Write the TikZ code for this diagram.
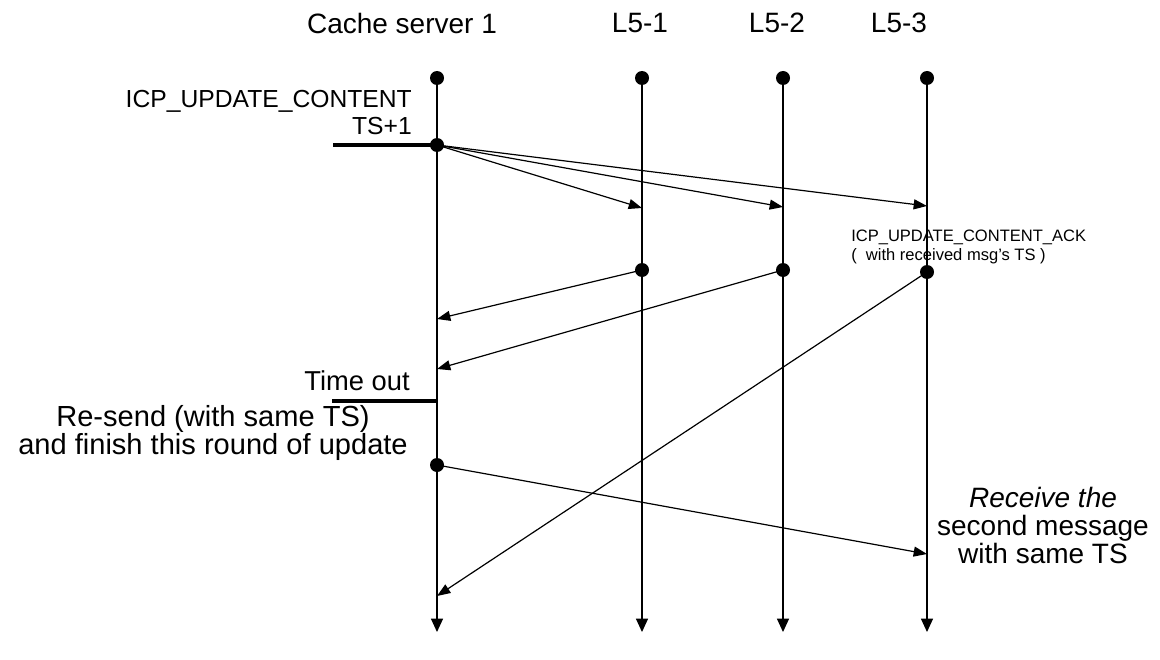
\documentclass[tikz,border=0pt]{standalone}
\usepackage{fontspec}
\setmainfont{Liberation Sans}
\usetikzlibrary{arrows.meta}
\begin{document}
\begin{tikzpicture}[x=0.75pt,y=-0.75pt,
  dot/.style={circle,fill=black,inner sep=0pt,minimum size=10.5pt},
  life/.style={line width=0.9pt,-{Triangle[length=10pt,width=9pt]}},
  msg/.style={line width=0.9pt,-{Triangle[length=10pt,width=7.5pt]}},
  thick line/.style={line width=2.3pt},
  big/.style={font=\fontsize{18.5}{22}\selectfont,inner sep=0pt},
  head/.style={font=\fontsize{21}{25}\selectfont,inner sep=0pt},
  side/.style={font=\fontsize{20.5}{21}\selectfont,inner sep=0pt},
  small/.style={font=\fontsize{12.4}{15}\selectfont,inner sep=0pt}]
\useasboundingbox (0,0) rectangle (1160,660);
% headers
\node[head] (h0) at (402,23) {Cache server 1};
\node[head] (h1) at (640,23) {L5-1};
\node[head] (h2) at (777,23) {L5-2};
\node[head] (h3) at (899,23) {L5-3};
% top dots
\node[dot] (c0) at (437,78) {};
\node[dot] (a0) at (642,78) {};
\node[dot] (b0) at (783,78) {};
\node[dot] (d0) at (927,78) {};
% bottoms
\coordinate (cE) at (437,632);
\coordinate (aE) at (642,632);
\coordinate (bE) at (783,632);
\coordinate (dE) at (927,632);
\draw[life] (c0.center) -- (cE);
\draw[life] (a0.center) -- (aE);
\draw[life] (b0.center) -- (bE);
\draw[life] (d0.center) -- (dE);
% update send
\node[big,anchor=east] (t1) at (412,101) {ICP\_UPDATE\_CONTENT};
\node[big,anchor=east] (t2) at (412,126) {TS+1};
\node[dot] (c1) at (437,145) {};
\coordinate (s1) at (333,145);
\draw[thick line] (s1) -- (c1.center);
\coordinate (a1) at (642,208);
\coordinate (b1) at (783,207);
\coordinate (d1) at (927,206);
\draw[msg] (c1.center) -- (a1);
\draw[msg] (c1.center) -- (b1);
\draw[msg] (c1.center) -- (d1);
% acks
\node[small,anchor=west] (k1) at (851,237) {ICP\_UPDATE\_CONTENT\_ACK};
\node[small,anchor=west] (k2) at (851,256) {(~ with received msg's TS )};
\node[dot] (a2) at (642,270) {};
\node[dot] (b2) at (783,270) {};
\node[dot] (d2) at (927,272) {};
\coordinate (c2) at (437,319);
\coordinate (c3) at (437,369);
\coordinate (c5) at (437,596);
\draw[msg] (a2.center) -- (c2);
\draw[msg] (b2.center) -- (c3);
\draw[msg] (d2.center) -- (c5);
% time out
\node[side,anchor=east] (to) at (410,381) {Time out};
\coordinate (s2) at (332,401);
\coordinate (c4) at (437,401);
\draw[thick line] (s2) -- (c4);
\node[font=\fontsize{21.8}{20.5}\selectfont,inner sep=0pt,align=center] (rs) at (213,433) {Re-send (with same TS)\\and finish this round of update};
\node[dot] (c6) at (437,465) {};
\coordinate (d3) at (927,554);
\draw[msg] (c6.center) -- (d3);
\node[font=\fontsize{21}{21}\selectfont,inner sep=0pt,align=center] (rc) at (1043,525) {\textit{Receive the}\\second message\\with same TS};
\end{tikzpicture}
\end{document}
